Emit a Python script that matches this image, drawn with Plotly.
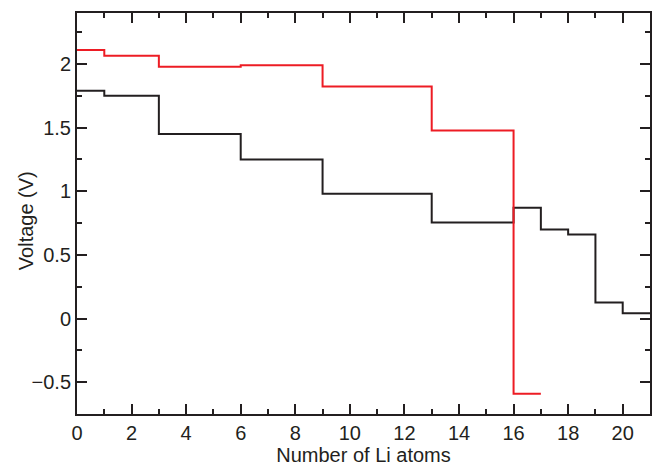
import plotly.graph_objects as go

# Step boundaries (number of Li atoms) and plateau voltages
black_x = [0, 1, 3, 6, 9, 13, 16, 17, 18, 19, 20, 21]
black_v = [1.79, 1.75, 1.45, 1.25, 0.98, 0.755, 0.87, 0.70, 0.66, 0.125, 0.042]

red_x = [0, 1, 3, 6, 9, 13, 16, 17]
red_v = [2.11, 2.065, 1.977, 1.99, 1.823, 1.477, -0.59]

x_ticks = list(range(0, 21, 2))
y_ticks = [-0.5, 0, 0.5, 1, 1.5, 2]
y_ticktext = ["\u22120.5", "0", "0.5", "1", "1.5", "2"]

fig = go.Figure()
fig.add_trace(go.Scatter(x=black_x, y=black_v + [black_v[-1]], mode="lines",
                         line=dict(color="#231f20", width=2, shape="hv"),
                         showlegend=False))
fig.add_trace(go.Scatter(x=red_x, y=red_v + [red_v[-1]], mode="lines",
                         line=dict(color="#ed1c24", width=2, shape="hv"),
                         showlegend=False))

font = dict(family="Liberation Sans, Arial, sans-serif", size=20, color="#231f20")
fig.update_layout(
    width=660, height=468,
    margin=dict(l=77, r=8, t=13, b=54),
    paper_bgcolor="white", plot_bgcolor="white",
    font=font,
)
fig.update_xaxes(
    range=[0, 21], tickmode="array", tickvals=x_ticks,
    ticks="inside", ticklen=10, tickwidth=2, tickcolor="#231f20",
    showline=True, linewidth=2, linecolor="#231f20", mirror="allticks",
    showgrid=False, zeroline=False,
    minor=dict(ticks="inside", dtick=1, ticklen=5, tickwidth=2, tickcolor="#231f20", showgrid=False),
    title=dict(text="Number of Li atoms", standoff=2, font=font),
)
fig.update_yaxes(
    range=[-0.75, 2.4], tickmode="array", tickvals=y_ticks,
    ticktext=y_ticktext,
    ticks="inside", ticklen=10, tickwidth=2, tickcolor="#231f20",
    showline=True, linewidth=2, linecolor="#231f20", mirror="allticks",
    showgrid=False, zeroline=False,
    minor=dict(ticks="inside", dtick=0.25, tick0=0, ticklen=5, tickwidth=2, tickcolor="#231f20", showgrid=False),
)
fig.add_annotation(text="Voltage (V)", textangle=-90, xref="paper", yref="paper",
                   x=(26 - 77) / 575, y=(414 - 221) / 401, xanchor="center", yanchor="middle",
                   showarrow=False, font=font)
fig.write_html("out.html")
